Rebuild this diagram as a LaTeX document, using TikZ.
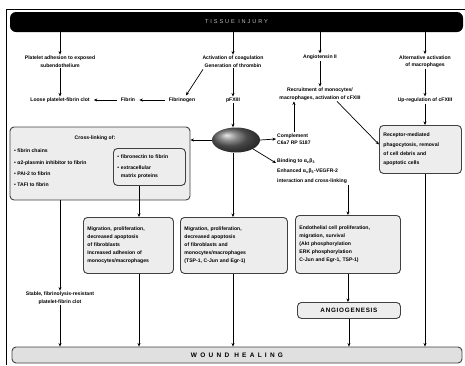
\documentclass[tikz,border=0pt]{standalone}
\usepackage{fontspec}
\setmainfont{Liberation Sans}
\newfontfamily\spacedfont[LetterSpace=50]{Liberation Sans}
\newfontfamily\titlefont[LetterSpace=34]{Liberation Sans}
\newfontfamily\widefont[LetterSpace=12]{Liberation Sans}
\usetikzlibrary{arrows.meta,shapes.geometric,calc}
\begin{document}
\begin{tikzpicture}[x=1pt,y=-1pt,
  t/.style={font=\fontsize{5.1}{7.6}\selectfont\bfseries, inner sep=1pt, align=center},
  box/.style={draw=black!75, line width=0.9pt, fill=black!7, rounded corners=4pt},
  bt/.style={box, font=\fontsize{5.1}{7.9}\selectfont\bfseries, align=left, inner sep=4pt},
  arr/.style={line width=0.7pt, -{Stealth[length=3.5pt,width=3pt]}},
  ln/.style={line width=0.7pt}]
\useasboundingbox (0,0) rectangle (465,365);
\draw[line width=0.8pt] (6,365) -- (6,9) -- (465,9);

% title bar
\node[fill=black, rounded corners=6pt, minimum width=453pt, minimum height=20pt, inner sep=0pt, text=black!25,
  font=\titlefont\fontsize{5.6}{6}\selectfont] (title) at (236.5,22) {TISSUE INJURY};

% first row
\node[t] (plat) at (60,61.5) {Platelet adhesion to exposed\\subendothelium};
\node[t] (coag) at (233,61.5) {Activation of coagulation\\Generation of thrombin};
\node[t] (angio) at (320,57) {Angiotensin II};
\node[t] (alt) at (425,61.5) {Alternative activation\\of macrophages};

% second row
\node[t] (loose) at (60,100) {Loose platelet-fibrin clot};
\node[t] (fibrin) at (128,100) {Fibrin};
\node[t] (fbg) at (182,100) {Fibrinogen};
\node[t] (pf) at (233,100) {pFXIII};
\node[t] (recr) at (320,94) {Recruitment of monocytes/\\macrophages, activation of cFXIII};
\node[t] (upreg) at (425,100) {Up-regulation of cFXIII};

\draw[arr] (title.south -| plat) -- (plat);
\draw[arr] (title.south -| coag) -- (coag);
\draw[arr] (title.south -| angio) -- (angio);
\draw[arr] (title.south -| alt) -- (alt);
\draw[arr] (plat) -- (loose);
\draw[arr] (coag) -- (pf);
\draw[arr] ($(coag.south)+(-30,1)$) -- ($(fbg.north)+(4,-1)$);
\draw[arr, shorten <=3pt, shorten >=3pt] (fbg) -- (fibrin);
\draw[arr, shorten <=3pt, shorten >=3pt] (fibrin) -- (loose);
\draw[arr] (angio) -- (recr);
\draw[arr] (alt) -- (upreg);

% ellipse
\node[ellipse, minimum width=48pt, minimum height=25pt, inner sep=0pt, shading=ball, ball color=black!60] (ell) at (236,140) {};
\draw[arr] (pf) -- (pf |- ell.north);

% cross-linking box
\node[box, minimum width=180pt, minimum height=73pt, inner sep=0pt] (cross) at (100,163.5) {};
\node[t] (crt) at (95,138) {Cross-linking of:};
\node[t, anchor=north west, align=left, font=\fontsize{5.1}{11.2}\selectfont\bfseries] (crl) at (13,148)
  {• fibrin chains\\• α2-plasmin inhibitor to fibrin\\• PAI-2 to fibrin\\• TAFI to fibrin};
\node[bt, text width=64pt, minimum height=37pt, anchor=north west] (fn) at (113,148)
  {• fibronectin to fibrin\\[3pt]• extracellular\\\hphantom{• }matrix proteins};
\draw[arr] (ell.west) -- (ell.west -| cross.east);

% complement and binding
\node[t, anchor=west, align=left] (comp) at (276,139) {Complement\\C6a7 RP 5187};
\draw[arr] (ell.east) -- (comp.west);
\draw[arr] (comp.north) -- (comp.north |- recr.south);

\node[t, anchor=north west, align=left, font=\fontsize{5.1}{10}\selectfont\bfseries] (bind) at (276,158)
  {Binding to α\textsubscript{v}β\textsubscript{3}\\Enhanced α\textsubscript{v}β\textsubscript{3}-VEGFR-2\\interaction and cross-linking};
\draw[arr] (ell.south east) -- ($(bind.north west)+(0,5)$);

% receptor box
\node[bt, text width=74pt, minimum height=48pt, anchor=north west, font=\fontsize{5.1}{9.3}\selectfont\bfseries] (rec) at (379,125)
  {Receptor-mediated\\phagocytosis, removal\\of cell debris and\\apoptotic cells};
\draw[arr] ($(recr.south)+(17,0)$) -- ($(rec.west)+(0,-5)$);
\draw[arr] (upreg) -- (upreg |- rec.north);

% lower boxes
\node[bt, text width=82pt, minimum height=56pt, anchor=north west] (mig1) at (83,217)
  {Migration, proliferation,\\decreased apoptosis\\of fibroblasts\\Increased adhesion of\\monocytes/macrophages};
\node[bt, text width=99pt, minimum height=56pt, anchor=north west] (mig2) at (180,217)
  {Migration, proliferation,\\decreased apoptosis\\of fibroblasts and\\monocytes/macrophages\\(TSP-1, C-Jun and Egr-1)};
\node[bt, text width=97pt, minimum height=58pt, anchor=north west] (endo) at (295,215)
  {Endothelial cell proliferation,\\migration, survival\\(Akt phosphorylation\\ERK phosphorylation\\C-Jun and Egr-1, TSP-1)};
\node[box, minimum width=103pt, minimum height=16pt, inner sep=0pt, anchor=north west,
  font=\widefont\fontsize{6.3}{7}\selectfont\bfseries] (angi) at (297,302) {ANGIOGENESIS};
\draw[arr] (endo.north |- bind.south) -- (endo.north);

\node[t] (stable) at (60,298) {Stable, fibrinolysis-resistant\\platelet-fibrin clot};

% wound healing bar
\node[box, fill=black!12, minimum width=450pt, minimum height=16pt, inner sep=0pt,
  font=\spacedfont\fontsize{6.5}{7}\selectfont\bfseries] (wound) at (237,355) {WOUND HEALING};

\coordinate (x1) at (139,0);
\draw[arr] (cross.south -| stable) -- (stable);
\draw[arr] (stable) -- (stable |- wound.north);
\draw[arr] (fn.south -| x1) -- (mig1.north -| x1);
\draw[arr] (mig1.south -| x1) -- (wound.north -| x1);
\draw[arr] (ell.south -| pf) -- (mig2.north -| pf);
\draw[arr] (mig2.south -| pf) -- (wound.north -| pf);
\draw[arr] (endo.south) -- (endo.south |- angi.north);
\draw[arr] (angi.south) -- (angi.south |- wound.north);
\draw[arr] (rec.south -| upreg) -- (wound.north -| upreg);
\end{tikzpicture}
\end{document}
